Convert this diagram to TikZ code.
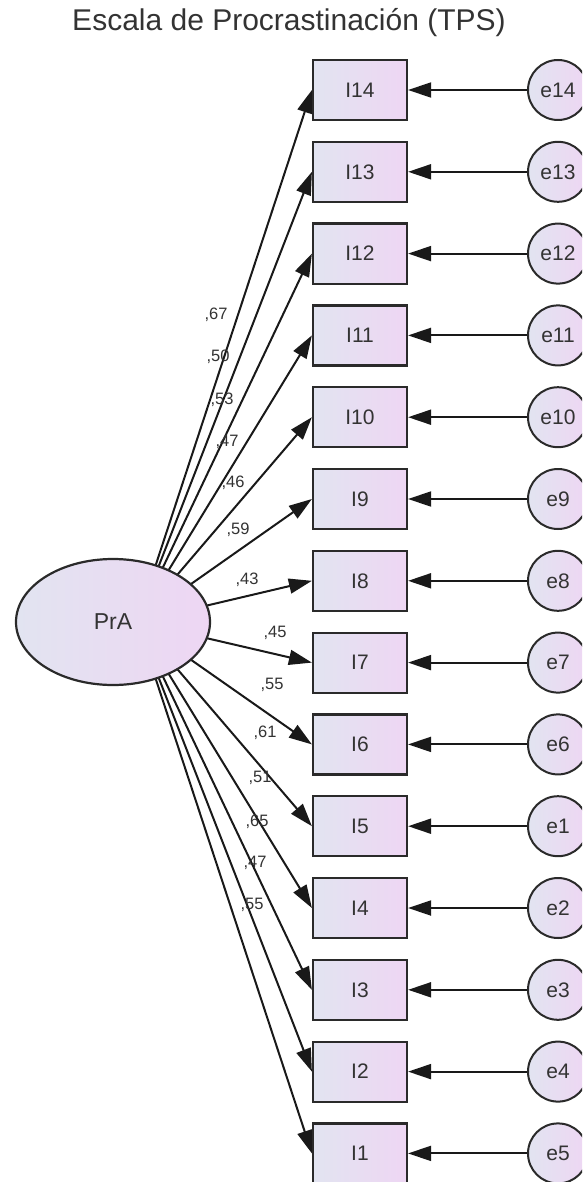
\documentclass[tikz,border=0pt]{standalone}
\usepackage{fontspec}
\setmainfont{Liberation Sans}
\usetikzlibrary{arrows.meta,shapes.geometric,backgrounds}
\definecolor{txt}{HTML}{333333}
\definecolor{edge}{HTML}{2A2A2A}
\definecolor{fillL}{RGB}{226,228,241}
\definecolor{fillR}{RGB}{238,214,243}
\begin{document}
\begin{tikzpicture}[x=1pt,y=-1pt,
  item/.style={rectangle, draw=edge, line width=2.2pt, minimum width=94pt, minimum height=60pt,
    inner sep=0pt, left color=fillL, right color=fillR, text=txt, font=\fontsize{21}{21}\selectfont},
  errc/.style={circle, draw=edge, line width=2pt, minimum size=60pt, inner sep=0pt,
    left color=fillL, right color=fillR, text=txt, font=\fontsize{21}{21}\selectfont},
  lat/.style={ellipse, draw=edge, line width=2.2pt, minimum width=194pt, minimum height=126pt,
    inner sep=0pt, left color=fillL, right color=fillR, text=txt, font=\fontsize{23}{23}\selectfont},
  arr/.style={draw=black!90, line width=2pt, -{Triangle[length=23pt,width=15pt]}},
  load/.style={text=txt, font=\fontsize{16.5}{16.5}\selectfont, inner sep=0pt}]
\useasboundingbox (0,0) rectangle (582,1182);
\clip (0,0) rectangle (582,1182);
\node[text=txt, font=\fontsize{30}{30}\selectfont] (title) at (289,23) {Escala de Procrastinación (TPS)};
\node[lat] (PrA) at (113,622) {PrA};
\foreach \k/\e [count=\i from 0] in {14/e14,13/e13,12/e12,11/e11,10/e10,9/e9,8/e8,7/e7,6/e6,5/e1,4/e2,3/e3,2/e4,1/e5} {
  \node[item] (I\k) at (360,90+\i*81.8) {I\k};
  \node[errc] (\e) at (558,90+\i*81.8) {\e};
  \draw[arr] (\e) -- (I\k);
}
\begin{pgfonlayer}{background}
\foreach \k in {1,...,14} {
  \draw[arr] ([xshift=24pt]PrA.center) -- (I\k.west);
}
\end{pgfonlayer}
\foreach \t/\x/\y [count=\n] in {67/216/315, 50/218/357, 53/222/400, 47/227/442, 46/233/483, 59/238/530, 43/247/580, 45/275/633, 55/272/685, 61/265/733, 51/260/778, 65/257/822, 47/255/863, 55/252/905} {
  \node[load] (L\n) at (\x,\y) {,\t};
}
\end{tikzpicture}
\end{document}
